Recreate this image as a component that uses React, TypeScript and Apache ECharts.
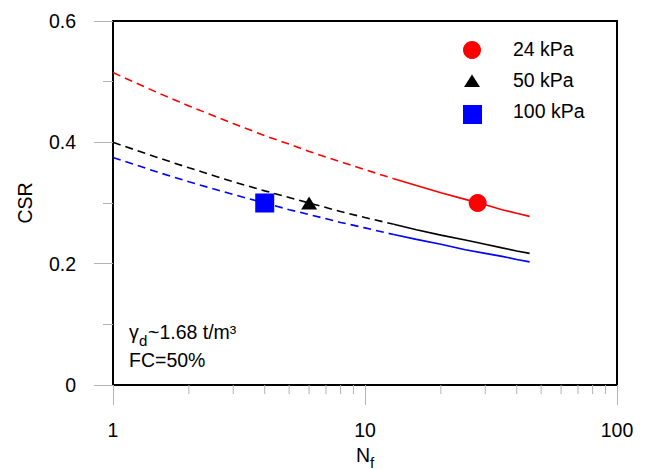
import React, { useEffect, useRef } from "react";
import * as echarts from "echarts";

const N_DASH = [1, 1.5, 2, 3, 4, 5, 6, 8, 10, 13];
const N_SOLID = [13, 16, 20, 25, 30, 35, 40, 45];
const RED_DASH = [0.515, 0.482, 0.46, 0.431, 0.411, 0.397, 0.385, 0.368, 0.355, 0.34];
const RED_SOLID = [0.34, 0.329, 0.317, 0.306, 0.297, 0.289, 0.283, 0.278];
const BLACK_DASH = [0.4, 0.375, 0.358, 0.335, 0.32, 0.309, 0.3, 0.286, 0.276, 0.265];
const BLACK_SOLID = [0.265, 0.256, 0.247, 0.239, 0.232, 0.226, 0.221, 0.217];
const BLUE_DASH = [0.375, 0.351, 0.335, 0.314, 0.3, 0.289, 0.281, 0.268, 0.259, 0.248];
const BLUE_SOLID = [0.248, 0.24, 0.232, 0.223, 0.217, 0.212, 0.207, 0.203];
const RED_POINT = [28, 0.3];
const BLACK_POINT = [6, 0.3];
const BLUE_POINT = [4, 0.3];
const LEGEND_LABELS = ["24 kPa", "50 kPa", "100 kPa"];
const X_MINOR_TICKS = [2, 3, 4, 5, 6, 7, 8, 9, 20, 30, 40, 50, 60, 70, 80, 90];

const FONT = "'Liberation Sans', Arial, sans-serif";
const FS = 19.5;
const TICK_COLOR = "#b3b3b3";

const zip = (xs: number[], ys: number[]) => xs.map((x, i) => [x, ys[i]]);

export default function App() {
  const ref = useRef<HTMLDivElement>(null);
  useEffect(() => {
    if (!ref.current) return;
    const chart = echarts.init(ref.current, null, { renderer: "svg" });
    const lineSeries = (data: number[][], color: string, dashed: boolean) => ({
      type: "line",
      data,
      symbol: "none",
      silent: true,
      lineStyle: { color, width: 1.6, type: dashed ? [8, 5] : "solid" },
      z: 2,
    });
    chart.setOption({
      animation: false,
      backgroundColor: "#ffffff",
      textStyle: { fontFamily: FONT },
      grid: {
        left: 113,
        right: 29,
        top: 21,
        bottom: 84,
        show: true,
        borderColor: "#000",
        borderWidth: 2,
        backgroundColor: "transparent",
      },
      xAxis: {
        type: "log",
        logBase: 10,
        min: 1,
        max: 100,
        axisLine: { show: false },
        axisTick: { show: true, length: 20, lineStyle: { color: TICK_COLOR } },
        axisLabel: { margin: 35, fontSize: FS, color: "#000", fontFamily: FONT },
        splitLine: { show: false },
      },
      yAxis: {
        type: "value",
        min: 0,
        max: 0.6,
        interval: 0.2,
        axisLine: { show: false },
        axisTick: { show: true, length: 19, lineStyle: { color: TICK_COLOR } },
        minorTick: { show: true, splitNumber: 2, length: 10, lineStyle: { color: TICK_COLOR } },
        axisLabel: { margin: 37, fontSize: FS, color: "#000", fontFamily: FONT },
        splitLine: { show: false },
        minorSplitLine: { show: false },
      },
      series: [
        lineSeries(zip(N_DASH, RED_DASH), "#ff0000", true),
        lineSeries(zip(N_SOLID, RED_SOLID), "#ff0000", false),
        lineSeries(zip(N_DASH, BLACK_DASH), "#000000", true),
        lineSeries(zip(N_SOLID, BLACK_SOLID), "#000000", false),
        lineSeries(zip(N_DASH, BLUE_DASH), "#0000ff", true),
        lineSeries(zip(N_SOLID, BLUE_SOLID), "#0000ff", false),
        {
          type: "scatter",
          data: [RED_POINT],
          symbol: "circle",
          symbolSize: 18,
          itemStyle: { color: "#ff0000", opacity: 1 },
          z: 5,
        },
        {
          type: "scatter",
          data: [BLACK_POINT],
          symbol: "triangle",
          symbolSize: [16, 13],
          itemStyle: { color: "#000000", opacity: 1 },
          z: 5,
        },
        {
          type: "scatter",
          data: [BLUE_POINT],
          symbol: "rect",
          symbolSize: 19,
          itemStyle: { color: "#0000ff", opacity: 1 },
          z: 5,
        },
        {
          type: "custom",
          clip: false,
          silent: true,
          data: X_MINOR_TICKS.map((v) => [v, 0]),
          encode: { x: 0, y: 1 },
          renderItem: (params: any, api: any) => {
            const p = api.coord([api.value(0), 0]);
            return {
              type: "line",
              shape: { x1: p[0], y1: p[1], x2: p[0], y2: p[1] + 9 },
              style: { stroke: TICK_COLOR, lineWidth: 1 },
            };
          },
          z: 1,
        },
      ],
      graphic: [
        // legend
        { type: "circle", shape: { cx: 472, cy: 50, r: 9 }, style: { fill: "#ff0000" } },
        {
          type: "polygon",
          shape: { points: [[472, 74.5], [464, 87], [480, 87]] },
          style: { fill: "#000000" },
        },
        { type: "rect", shape: { x: 463, y: 105, width: 19, height: 19 }, style: { fill: "#0000ff" } },
        {
          type: "text",
          x: 513,
          y: 49,
          style: { text: LEGEND_LABELS[0], font: `${FS}px ${FONT}`, fill: "#000", verticalAlign: "middle" },
        },
        {
          type: "text",
          x: 513,
          y: 80,
          style: { text: LEGEND_LABELS[1], font: `${FS}px ${FONT}`, fill: "#000", verticalAlign: "middle" },
        },
        {
          type: "text",
          x: 513,
          y: 111,
          style: { text: LEGEND_LABELS[2], font: `${FS}px ${FONT}`, fill: "#000", verticalAlign: "middle" },
        },
        // annotation
        {
          type: "text",
          x: 129,
          y: 332,
          style: { text: "γ", font: `${FS}px ${FONT}`, fill: "#000", verticalAlign: "middle" },
        },
        {
          type: "text",
          x: 139,
          y: 340,
          style: { text: "d", font: `15px ${FONT}`, fill: "#000", verticalAlign: "middle" },
        },
        {
          type: "text",
          x: 148,
          y: 332,
          style: { text: "~1.68 t/m³", font: `${FS}px ${FONT}`, fill: "#000", verticalAlign: "middle" },
        },
        {
          type: "text",
          x: 129,
          y: 360,
          style: { text: "FC=50%", font: `${FS}px ${FONT}`, fill: "#000", verticalAlign: "middle" },
        },
        // axis titles
        {
          type: "text",
          x: 25,
          y: 203,
          rotation: Math.PI / 2,
          style: {
            text: "CSR",
            font: `${FS}px ${FONT}`,
            fill: "#000",
            align: "center",
            verticalAlign: "middle",
          },
        },
        {
          type: "text",
          x: 356,
          y: 455,
          style: { text: "N", font: `${FS}px ${FONT}`, fill: "#000", verticalAlign: "middle" },
        },
        {
          type: "text",
          x: 370,
          y: 462,
          style: { text: "f", font: `15px ${FONT}`, fill: "#000", verticalAlign: "middle" },
        },
      ],
    });
    return () => chart.dispose();
  }, []);
  return (
    <div
      ref={ref}
      style={{ position: "fixed", left: 0, top: 0, width: 646, height: 469 }}
    />
  );
}
